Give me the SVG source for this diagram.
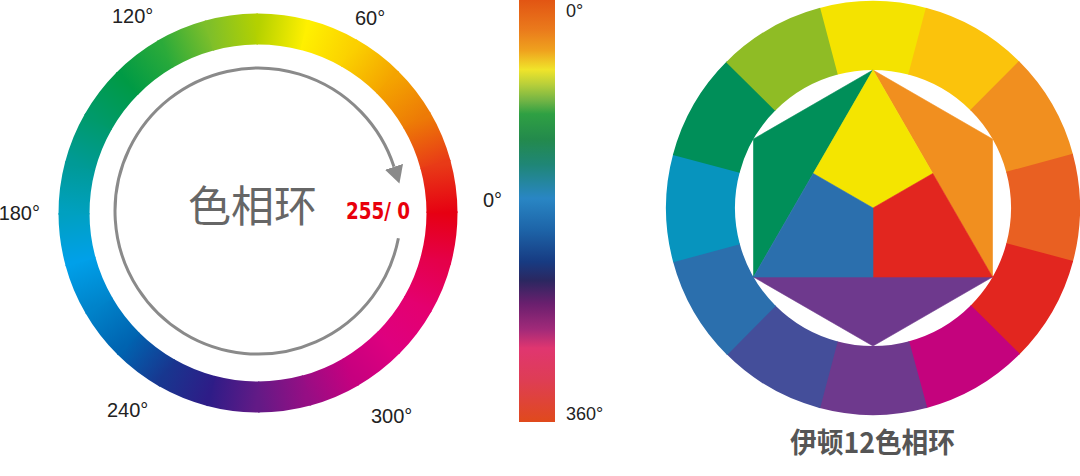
<svg xmlns="http://www.w3.org/2000/svg" width="1080" height="476" viewBox="0 0 1080 476">
<style>
.lbl{font-family:"Liberation Sans",Arial,sans-serif;font-size:20px;fill:#222}
.sm{font-size:18px}
.cjk{font-family:"Noto Sans CJK SC","Noto Sans",sans-serif}
.seg{fill:none;stroke-width:31}
.pc{stroke-width:0.6;stroke-linejoin:round}
</style>
<defs>
<linearGradient id="gb" gradientUnits="userSpaceOnUse" x1="184" y1="0" x2="177.73" y2="47.62"/>
<linearGradient id="g0" href="#gb"><stop offset="0" stop-color="#e60012"/><stop offset="1" stop-color="#e5004a"/></linearGradient>
<linearGradient id="g1" href="#gb"><stop offset="0" stop-color="#e5004a"/><stop offset="1" stop-color="#e40070"/></linearGradient>
<linearGradient id="g2" href="#gb"><stop offset="0" stop-color="#e40070"/><stop offset="1" stop-color="#de007f"/></linearGradient>
<linearGradient id="g3" href="#gb"><stop offset="0" stop-color="#de007f"/><stop offset="1" stop-color="#c6007f"/></linearGradient>
<linearGradient id="g4" href="#gb"><stop offset="0" stop-color="#c6007f"/><stop offset="1" stop-color="#960e84"/></linearGradient>
<linearGradient id="g5" href="#gb"><stop offset="0" stop-color="#960e84"/><stop offset="1" stop-color="#631a86"/></linearGradient>
<linearGradient id="g6" href="#gb"><stop offset="0" stop-color="#631a86"/><stop offset="1" stop-color="#2e1c87"/></linearGradient>
<linearGradient id="g7" href="#gb"><stop offset="0" stop-color="#2e1c87"/><stop offset="1" stop-color="#18368f"/></linearGradient>
<linearGradient id="g8" href="#gb"><stop offset="0" stop-color="#18368f"/><stop offset="1" stop-color="#0063b0"/></linearGradient>
<linearGradient id="g9" href="#gb"><stop offset="0" stop-color="#0063b0"/><stop offset="1" stop-color="#0083ca"/></linearGradient>
<linearGradient id="g10" href="#gb"><stop offset="0" stop-color="#0083ca"/><stop offset="1" stop-color="#00a0e9"/></linearGradient>
<linearGradient id="g11" href="#gb"><stop offset="0" stop-color="#00a0e9"/><stop offset="1" stop-color="#00a0c0"/></linearGradient>
<linearGradient id="g12" href="#gb"><stop offset="0" stop-color="#00a0c0"/><stop offset="1" stop-color="#009a96"/></linearGradient>
<linearGradient id="g13" href="#gb"><stop offset="0" stop-color="#009a96"/><stop offset="1" stop-color="#009a6a"/></linearGradient>
<linearGradient id="g14" href="#gb"><stop offset="0" stop-color="#009a6a"/><stop offset="1" stop-color="#009a45"/></linearGradient>
<linearGradient id="g15" href="#gb"><stop offset="0" stop-color="#009a45"/><stop offset="1" stop-color="#2aaa3a"/></linearGradient>
<linearGradient id="g16" href="#gb"><stop offset="0" stop-color="#2aaa3a"/><stop offset="1" stop-color="#7ebf2a"/></linearGradient>
<linearGradient id="g17" href="#gb"><stop offset="0" stop-color="#7ebf2a"/><stop offset="1" stop-color="#b4d100"/></linearGradient>
<linearGradient id="g18" href="#gb"><stop offset="0" stop-color="#b4d100"/><stop offset="1" stop-color="#fff000"/></linearGradient>
<linearGradient id="g19" href="#gb"><stop offset="0" stop-color="#fff000"/><stop offset="1" stop-color="#fbd000"/></linearGradient>
<linearGradient id="g20" href="#gb"><stop offset="0" stop-color="#fbd000"/><stop offset="1" stop-color="#f4a300"/></linearGradient>
<linearGradient id="g21" href="#gb"><stop offset="0" stop-color="#f4a300"/><stop offset="1" stop-color="#ed7a06"/></linearGradient>
<linearGradient id="g22" href="#gb"><stop offset="0" stop-color="#ed7a06"/><stop offset="1" stop-color="#e83a17"/></linearGradient>
<linearGradient id="g23" href="#gb"><stop offset="0" stop-color="#e83a17"/><stop offset="1" stop-color="#e60012"/></linearGradient>
<linearGradient id="bar" x1="0" y1="0" x2="0" y2="1">
<stop offset="0" stop-color="#e25513"/>
<stop offset="0.07" stop-color="#ea7a1c"/>
<stop offset="0.12" stop-color="#efa21e"/>
<stop offset="0.165" stop-color="#f0e42a"/>
<stop offset="0.2" stop-color="#b8cf3a"/>
<stop offset="0.24" stop-color="#6fb345"/>
<stop offset="0.27" stop-color="#2fa043"/>
<stop offset="0.33" stop-color="#238a4c"/>
<stop offset="0.39" stop-color="#1f8676"/>
<stop offset="0.47" stop-color="#2986c4"/>
<stop offset="0.545" stop-color="#1d64a8"/>
<stop offset="0.62" stop-color="#173b82"/>
<stop offset="0.665" stop-color="#2b2760"/>
<stop offset="0.72" stop-color="#6a1f6e"/>
<stop offset="0.78" stop-color="#a12a79"/>
<stop offset="0.825" stop-color="#e03670"/>
<stop offset="0.9" stop-color="#de3d55"/>
<stop offset="1" stop-color="#e04a1c"/>
</linearGradient>
<path id="arc" class="seg" d="M183.99 -1.61 A184 184 0 0 1 177.73 47.62"/>
<path id="sec" d="M-54.27 -199.76 A207 207 0 0 1 54.27 -199.76 L36.18 -133.17 A138 138 0 0 0 -36.18 -133.17 Z"/>
<marker id="ah" markerUnits="userSpaceOnUse" markerWidth="18" markerHeight="19" viewBox="0 0 18 19" refX="0" refY="9.5" orient="auto">
<path d="M0 0 L17.5 9.5 L0 19 Z" fill="#8a8a8a"/>
</marker>
</defs>

<g id="hue-ring" transform="translate(258,213)">
<use href="#arc" stroke="url(#g0)"/>
<use href="#arc" transform="rotate(15)" stroke="url(#g1)"/>
<use href="#arc" transform="rotate(30)" stroke="url(#g2)"/>
<use href="#arc" transform="rotate(45)" stroke="url(#g3)"/>
<use href="#arc" transform="rotate(60)" stroke="url(#g4)"/>
<use href="#arc" transform="rotate(75)" stroke="url(#g5)"/>
<use href="#arc" transform="rotate(90)" stroke="url(#g6)"/>
<use href="#arc" transform="rotate(105)" stroke="url(#g7)"/>
<use href="#arc" transform="rotate(120)" stroke="url(#g8)"/>
<use href="#arc" transform="rotate(135)" stroke="url(#g9)"/>
<use href="#arc" transform="rotate(150)" stroke="url(#g10)"/>
<use href="#arc" transform="rotate(165)" stroke="url(#g11)"/>
<use href="#arc" transform="rotate(180)" stroke="url(#g12)"/>
<use href="#arc" transform="rotate(195)" stroke="url(#g13)"/>
<use href="#arc" transform="rotate(210)" stroke="url(#g14)"/>
<use href="#arc" transform="rotate(225)" stroke="url(#g15)"/>
<use href="#arc" transform="rotate(240)" stroke="url(#g16)"/>
<use href="#arc" transform="rotate(255)" stroke="url(#g17)"/>
<use href="#arc" transform="rotate(270)" stroke="url(#g18)"/>
<use href="#arc" transform="rotate(285)" stroke="url(#g19)"/>
<use href="#arc" transform="rotate(300)" stroke="url(#g20)"/>
<use href="#arc" transform="rotate(315)" stroke="url(#g21)"/>
<use href="#arc" transform="rotate(330)" stroke="url(#g22)"/>
<use href="#arc" transform="rotate(345)" stroke="url(#g23)"/>
</g>

<g id="connectors">
<path d="M398.4 238.3 A143 143 0 1 1 394.0 166.8" fill="none" stroke="#8a8a8a" stroke-width="3" marker-end="url(#ah)"/>
</g>

<g id="ring-labels">
<text class="lbl" x="112" y="23">120°</text>
<text class="lbl" x="355" y="25">60°</text>
<text class="lbl" x="40" y="220" text-anchor="end">180°</text>
<text class="lbl" x="483" y="207">0°</text>
<text class="lbl" x="107" y="417">240°</text>
<text class="lbl" x="371" y="423">300°</text>
</g>

<g id="center-title">
<text class="cjk" x="252.5" y="222" font-size="43" fill="#666" text-anchor="middle">色相环</text>
<text x="346" y="219" font-family="DejaVu Sans,sans-serif" font-weight="bold" font-stretch="condensed" font-size="23" fill="#e8000b" textLength="64" lengthAdjust="spacingAndGlyphs">255/ 0</text>
</g>

<g id="hue-bar">
<rect x="519" y="0" width="36" height="422" fill="url(#bar)"/>
<text class="lbl sm" x="566" y="17">0°</text>
<text class="lbl sm" x="566" y="420">360°</text>
</g>

<g id="itten-wheel">
<g transform="translate(873,208)">
<use href="#sec" fill="#f4e300"/>
<use href="#sec" transform="rotate(30)" fill="#fbc30c"/>
<use href="#sec" transform="rotate(60)" fill="#f18f1f"/>
<use href="#sec" transform="rotate(90)" fill="#e96022"/>
<use href="#sec" transform="rotate(120)" fill="#e2261f"/>
<use href="#sec" transform="rotate(150)" fill="#c4037d"/>
<use href="#sec" transform="rotate(180)" fill="#6e398d"/>
<use href="#sec" transform="rotate(210)" fill="#444e9a"/>
<use href="#sec" transform="rotate(240)" fill="#2b6fad"/>
<use href="#sec" transform="rotate(270)" fill="#0794be"/>
<use href="#sec" transform="rotate(300)" fill="#008f59"/>
<use href="#sec" transform="rotate(330)" fill="#8fbc25"/>
</g>
<polygon class="pc" points="873,70 753.5,139 753.5,277" fill="#008f59" stroke="#008f59"/>
<polygon class="pc" points="873,70 992.5,139 992.5,277" fill="#f18f1f" stroke="#f18f1f"/>
<polygon class="pc" points="753.5,277 992.5,277 873,346" fill="#6e398d" stroke="#6e398d"/>
<polygon class="pc" points="873,70 932.75,173.5 873,208 813.25,173.5" fill="#f4e500" stroke="#f4e500"/>
<polygon class="pc" points="873,208 932.75,173.5 992.5,277 873,277" fill="#e2261f" stroke="#e2261f"/>
<polygon class="pc" points="873,208 873,277 753.5,277 813.25,173.5" fill="#2b6fad" stroke="#2b6fad"/>
<text class="cjk" x="790" y="453" font-size="28" font-weight="700" fill="#555" textLength="165" lengthAdjust="spacingAndGlyphs">伊顿12色相环</text>
</g>
</svg>
